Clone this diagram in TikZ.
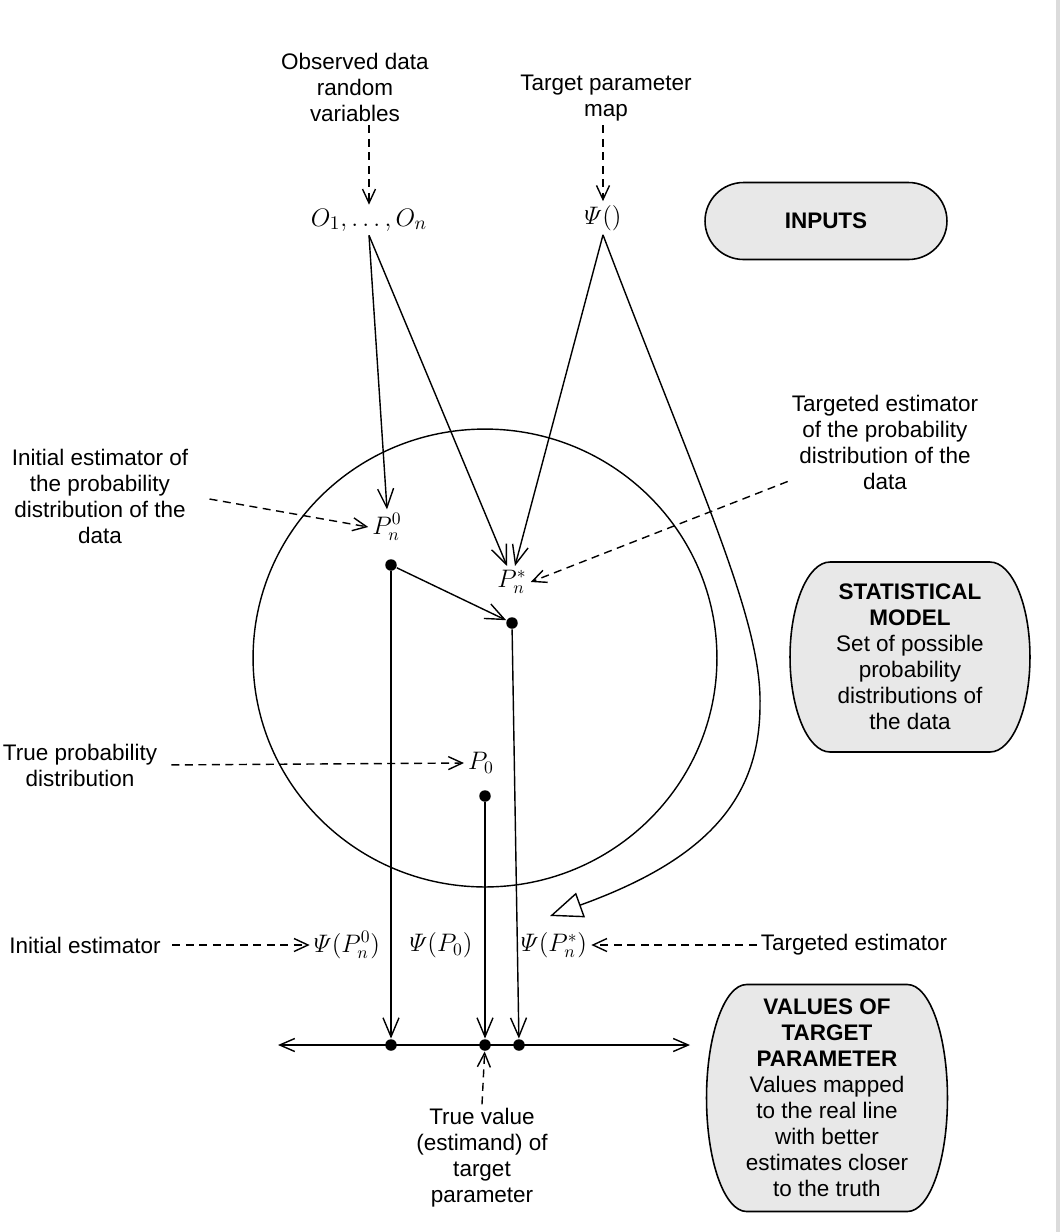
\documentclass[tikz,border=0pt]{standalone}
\usepackage{amsmath}
\usepackage{fontspec}
\setmainfont{Liberation Sans}
\usetikzlibrary{arrows.meta,calc,backgrounds}

% rounded panel behind a box node: #1 node, #2 side inset, #3 half height
\newcommand{\capsule}[3]{%
  \filldraw[panel] ($(#1.north west)+(#2,0)$)
    arc[start angle=90,end angle=270,x radius=#2,y radius=#3]
    -- ($(#1.south east)+(-#2,0)$)
    arc[start angle=-90,end angle=90,x radius=#2,y radius=#3] -- cycle;}

\begin{document}
\begin{tikzpicture}[
  x=0.02cm, y=-0.02cm,
  line width=0.8pt,
  font=\fontsize{12.8}{14.8}\selectfont,
  lbl/.style={align=center, inner sep=2pt},
  sym/.style={font=\fontsize{14}{16}\selectfont, inner sep=2pt},
  box/.style={align=center, inner sep=0pt, outer sep=0pt},
  dot/.style={circle, fill, inner sep=0pt, minimum size=2.3mm},
  panel/.style={draw=black, fill=black!9, line width=0.9pt},
  hint/.style={dash pattern=on 1.6mm off 1.1mm, -{Straight Barb[length=2.8mm,width=2.6mm]}},
  >={Straight Barb[length=3.8mm,width=3.2mm]},
]
  \useasboundingbox (0,0) rectangle (1060,1232);

  % inputs
  \node[lbl] (obsLbl) at (355,87) {Observed data\\random\\variables};
  \node[sym, font=\fontsize{15}{17}\selectfont] (obs) at (369,220) {$O_1,\ldots,O_n$};
  \node[lbl] (mapLbl) at (606,98) {Target parameter\\map};
  \node[sym] (psi) at (603,218) {$\varPsi()$};
  \node[box, minimum width=4.84cm, minimum height=1.54cm] (inputs) at (826,221) {\textbf{INPUTS}};

  % statistical model
  \draw (485,658) ellipse [x radius=4.64cm, y radius=4.58cm];
  \node[lbl] (initLbl) at (100,496) {Initial estimator of\\the probability\\distribution of the\\data};
  \node[sym] (pn0) at (387,527) {$P_n^0$};
  \node[dot] (pn0dot) at (391,565) {};
  \node[lbl] (tgtLbl) at (885,442) {Targeted estimator\\of the probability\\distribution of the\\data};
  \node[sym] (pnstar) at (512,582) {$P_n^*$};
  \node[dot] (pnstardot) at (512,623) {};
  \node[lbl] (trueLbl) at (80,765) {True probability\\distribution};
  \node[sym] (p0) at (481,763) {$P_0$};
  \node[dot] (p0dot) at (485,796) {};
  \node[box, minimum width=4.8cm, minimum height=3.8cm] (model) at (910,657)
    {\textbf{STATISTICAL}\\\textbf{MODEL}\\Set of possible\\probability\\distributions of\\the data};

  % values of the target parameter
  \node[lbl] (initEst) at (85,945) {Initial estimator};
  \node[sym] (val0) at (347,945) {$\varPsi(P_n^0)$};
  \node[sym] (valtrue) at (441,945) {$\varPsi(P_0)$};
  \node[sym] (valstar) at (554,945) {$\varPsi(P_n^*)$};
  \node[lbl] (tgtEst) at (854,945) {Targeted estimator};
  \coordinate (axL) at (278,1045);
  \coordinate (axR) at (690,1045);
  \node[dot] (a0) at (391,1045) {};
  \node[dot] (atrue) at (485,1045) {};
  \node[dot] (astar) at (519,1045) {};
  \node[lbl] (trueVal) at (482,1158) {True value\\(estimand) of\\target\\parameter};
  \node[box, minimum width=4.82cm, minimum height=4.54cm] (values) at (827,1098)
    {\textbf{VALUES OF}\\\textbf{TARGET}\\\textbf{PARAMETER}\\Values mapped\\to the real line\\with better\\estimates closer\\to the truth};

  % connectors
  \draw[hint] (obs.north |- obsLbl.south) -- (obs.north);
  \draw[hint] (psi.north |- mapLbl.south) -- (psi.north);
  \draw[->] (obs.south) -- (pn0.north);
  \draw[->] (obs.south) -- ($(pnstar.north)+(-5,0)$);
  \draw[->] (psi.south) -- ($(pnstar.north)+(3,0)$);
  \coordinate (mapTip) at (550,916);
  \draw[-{Triangle[open,length=6.5mm,width=5.2mm]}] (psi.south)
    .. controls (700,490) and (762,620) .. (760,705)
    .. controls (760,800) and (705,860) .. (mapTip);
  \draw[hint, shorten <=3.5mm] (initLbl.east) -- (pn0.west);
  \draw[hint] ($(tgtLbl.south west)+(0,-12)$) -- (pnstar.east);
  \draw[hint, shorten <=2mm] (trueLbl.east) -- (p0.west);
  \draw[->] (pn0dot) -- (pnstardot);
  \foreach \a/\b in {pn0dot/a0, p0dot/atrue, pnstardot/astar}
    \draw[->] (\a) -- (\b);
  \draw[<->, >={Straight Barb[length=3mm,width=2.6mm]}] (axL) -- (axR);
  \draw[hint, shorten <=1.5mm] (initEst.east) -- (val0.west);
  \draw[hint] (tgtEst.west) -- (valstar.east);
  \draw[hint] (trueVal.north) -- (atrue);

  \begin{scope}[on background layer]
    \fill[black!14] (1056,0) rectangle (1060,1232);
    \capsule{inputs}{0.77cm}{0.77cm}
    \capsule{model}{0.8cm}{1.9cm}
    \capsule{values}{0.8cm}{2.27cm}
  \end{scope}
\end{tikzpicture}
\end{document}
